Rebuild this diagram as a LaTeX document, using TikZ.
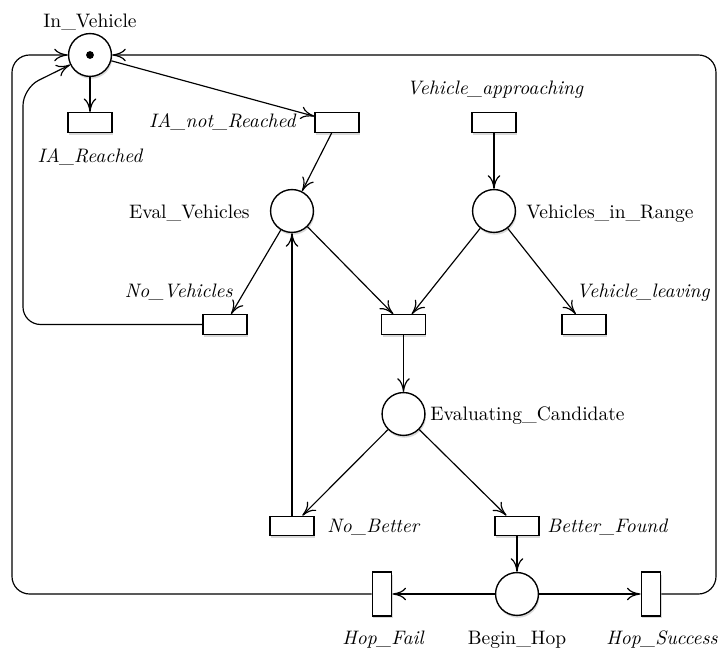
\documentclass[tikz,border=0pt]{standalone}
\usetikzlibrary{arrows.meta,shadows}
\begin{document}
\begin{tikzpicture}[x=0.513pt,y=-0.513pt,
  shad/.style={drop shadow={shadow xshift=0.5pt,shadow yshift=-1.2pt,opacity=0.15,fill=black}},
  pnode/.style={circle,draw,line width=0.7pt,minimum size=22pt,inner sep=0pt,fill=white,shad},
  tnode/.style={rectangle,draw,line width=0.7pt,minimum width=22.4pt,minimum height=10pt,inner sep=0pt,fill=white,shad},
  vtnode/.style={tnode,minimum width=10pt,minimum height=22.4pt},
  flow/.style={line width=0.6pt,-{To[length=7pt,width=6.5pt]}},
  lbl/.style={inner sep=0pt},
  tlbl/.style={inner sep=0pt,font=\itshape}]
\useasboundingbox (0,0) rectangle (718,650);
% places
\node[pnode] (iv) at (90,55) {};
\fill (iv.center) circle (2pt);
\node[pnode] (ev) at (292,211) {};
\node[pnode] (vr) at (494,211) {};
\node[pnode] (ec) at (403.5,414) {};
\node[pnode] (bh) at (517,594) {};
% transitions
\node[tnode] (iar) at (90,122.5) {};
\node[tnode] (ianr) at (337,122.5) {};
\node[tnode] (va) at (494,122.5) {};
\node[tnode] (nv) at (225,324.5) {};
\node[tnode] (sel) at (403.5,324.5) {};
\node[tnode] (vl) at (584,324.5) {};
\node[tnode] (nb) at (292,526) {};
\node[tnode] (bf) at (517,526) {};
\node[vtnode] (hf) at (382,594) {};
\node[vtnode] (hs) at (651,594) {};
% labels
\node[lbl,anchor=base] at (90,28) {In\_Vehicle};
\node[tlbl,anchor=base] at (90,163) {IA\_Reached};
\node[tlbl,anchor=base east] at (296,128) {IA\_not\_Reached};
\node[tlbl,anchor=base] at (495,95) {Vehicle\_approaching};
\node[lbl,anchor=base east] at (250,219) {Eval\_Vehicles};
\node[lbl,anchor=base west] at (526,219) {Vehicles\_in\_Range};
\node[tlbl,anchor=base east] at (233,298) {No\_Vehicles};
\node[tlbl,anchor=base west] at (576,298) {Vehicle\_leaving};
\node[lbl,anchor=base west] at (430,420.5) {Evaluating\_Candidate};
\node[tlbl,anchor=base west] at (327,533) {No\_Better};
\node[tlbl,anchor=base west] at (547,533) {Better\_Found};
\node[tlbl,anchor=base] at (383,645) {Hop\_Fail};
\node[lbl,anchor=base] at (517,645) {Begin\_Hop};
\node[tlbl,anchor=base] at (662,645) {Hop\_Success};
% arcs
\draw[flow] (iv) -- (iar);
\draw[flow] (iv) -- (ianr);
\draw[flow] (ianr) -- (ev);
\draw[flow] (va) -- (vr);
\draw[flow] (ev) -- (nv);
\draw[flow] (ev) -- (sel);
\draw[flow] (vr) -- (sel);
\draw[flow] (vr) -- (vl);
\draw[flow] (sel) -- (ec);
\draw[flow] (ec) -- (nb);
\draw[flow] (ec) -- (bf);
\draw[flow] (nb) -- (ev);
\draw[flow] (bf) -- (bh);
\draw[flow] (bh) -- (hf);
\draw[flow] (bh) -- (hs);
\draw[flow,rounded corners=9pt] (nv.west) -- (23,324.5) -- (23,88) -- (iv);
\draw[flow,rounded corners=9pt] (hf.west) -- (12,594) -- (12,55) -- (iv.west);
\draw[flow,rounded corners=9pt] (hs.east) -- (716,594) -- (716,55) -- (iv.east);
\end{tikzpicture}
\end{document}
